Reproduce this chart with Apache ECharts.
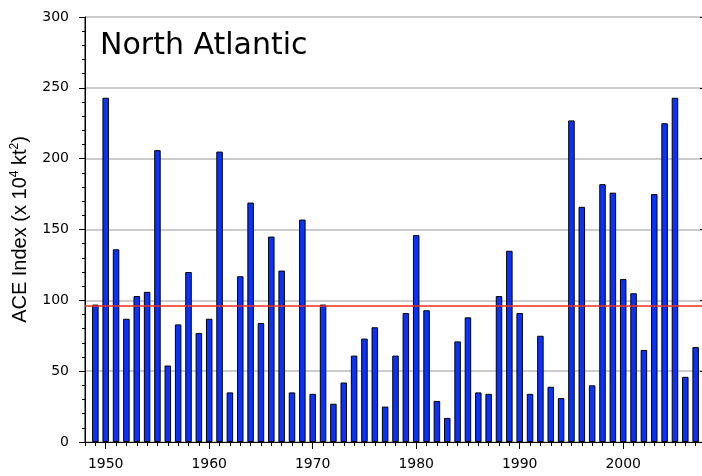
<!DOCTYPE html>
<html>
<head>
<meta charset="utf-8">
<script src="https://cdn.jsdelivr.net/npm/echarts@6/dist/echarts.min.js"></script>
<style>
html,body{margin:0;padding:0;background:#fff;overflow:hidden;width:702px;height:476px;}
#chart{width:706px;height:476px;}
</style>
</head>
<body>
<div id="chart"></div>
<script>
const years = [1949,1950,1951,1952,1953,1954,1955,1956,1957,1958,1959,1960,1961,1962,1963,1964,1965,1966,1967,1968,1969,1970,1971,1972,1973,1974,1975,1976,1977,1978,1979,1980,1981,1982,1983,1984,1985,1986,1987,1988,1989,1990,1991,1992,1993,1994,1995,1996,1997,1998,1999,2000,2001,2002,2003,2004,2005,2006,2007];
const aceValues = [97,243,136,87,103,106,206,54,83,120,77,87,205,35,117,169,84,145,121,35,157,34,97,27,42,61,73,81,25,61,91,146,93,29,17,71,88,35,34,103,135,91,34,75,39,31,227,166,40,182,176,115,105,65,175,225,243,46,67];
const meanValue = 96.5;
const xLabelYears = [1950,1960,1970,1980,1990,2000];
const xMinorYears = [];
for (let y = 1948; y <= 2008; y++) xMinorYears.push(y);
const titleText = 'North Atlantic';

const chart = echarts.init(document.getElementById('chart'));
const valueAxisBase = {
  type: 'value', min: 1948, max: 2008,
  splitLine: {show: false}
};
chart.setOption({
  animation: false,
  backgroundColor: '#fff',
  grid: {left: 85, right: 0, top: 17, bottom: 34, show: true, borderColor: '#000', borderWidth: 1, backgroundColor: 'transparent'},
  title: {
    text: titleText, left: 95, top: 26,
    textStyle: {fontFamily: 'DejaVu Sans', fontSize: 30, fontWeight: 'normal', color: '#000'}
  },
  xAxis: [
    Object.assign({}, valueAxisBase, {
      position: 'bottom',
      axisLine: {show: true, onZero: false, lineStyle: {color: '#000', width: 1}},
      axisTick: {show: true, length: 7, customValues: xLabelYears, lineStyle: {color: '#000'}},
      axisLabel: {show: true, customValues: xLabelYears, margin: 15, fontFamily: 'DejaVu Sans', fontSize: 14, color: '#000', formatter: v => String(v)}
    }),
    Object.assign({}, valueAxisBase, {
      position: 'bottom',
      axisLine: {show: false},
      axisTick: {show: true, length: 4, customValues: xMinorYears, lineStyle: {color: '#000'}},
      axisLabel: {show: false}
    })
  ],
  yAxis: [
    {
      type: 'value', min: 0, max: 300, interval: 50,
      name: 'ACE Index (x 10{sup|4} kt{sup|2})',
      nameLocation: 'middle', nameGap: 54, nameRotate: 90,
      nameTextStyle: {fontFamily: 'Liberation Sans', fontSize: 20, color: '#000',
        rich: {sup: {fontFamily: 'Liberation Sans', fontSize: 12, verticalAlign: 'top', padding: [0,0,10,0], color: '#000'}}},
      axisLine: {show: true, lineStyle: {color: '#000', width: 1}},
      axisTick: {show: true, length: 6, lineStyle: {color: '#000'}},
      minorTick: {show: true, splitNumber: 5, length: 3, lineStyle: {color: '#000'}},
      axisLabel: {margin: 16, fontFamily: 'DejaVu Sans', fontSize: 14, color: '#000'},
      splitLine: {show: true, lineStyle: {color: '#cccccc', width: 2}}
    },
    {
      type: 'value', min: 0, max: 300, interval: 50, position: 'right',
      axisLine: {show: true, lineStyle: {color: '#000'}},
      axisTick: {show: true, inside: true, length: 6, lineStyle: {color: '#000'}},
      axisLabel: {show: false},
      splitLine: {show: false}
    }
  ],
  series: [
    {
      type: 'bar',
      xAxisIndex: 0, yAxisIndex: 0,
      data: years.map((y, i) => [y, aceValues[i]]),
      barWidth: 6.5,
      itemStyle: {color: '#0a32ff', borderColor: '#000', borderWidth: 1},
      markLine: {
        silent: true, symbol: 'none', label: {show: false},
        lineStyle: {color: '#f0301e', width: 1.5, type: 'solid'},
        data: [{yAxis: meanValue}]
      }
    }
  ]
});
</script>
</body>
</html>
